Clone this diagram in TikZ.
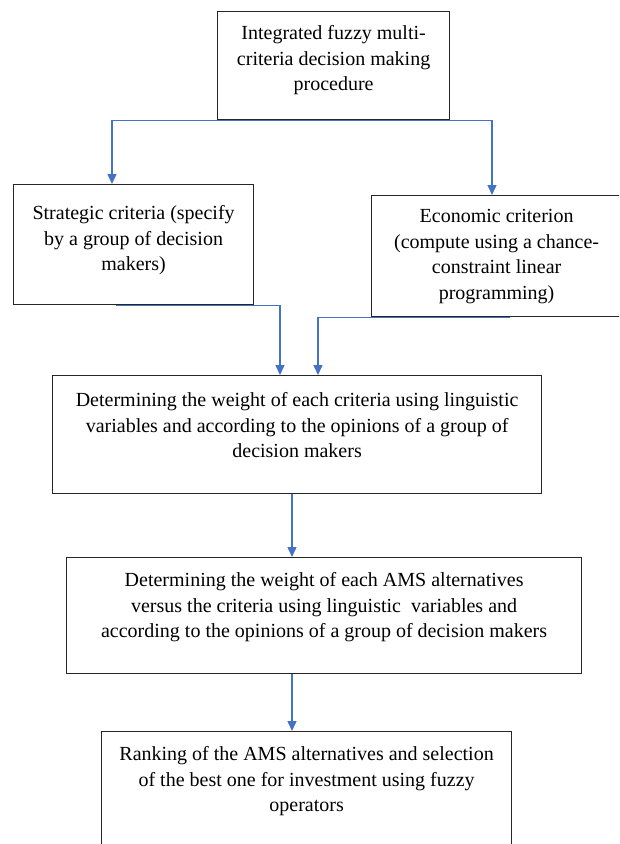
\documentclass[tikz,border=0pt]{standalone}
\usepackage{fontspec}
\setmainfont{Liberation Serif}
\usetikzlibrary{arrows.meta}
\definecolor{lnblue}{HTML}{4472C4}
\newcommand\boxtxt[4]{\parbox[c][#2][t]{#1}{\centering\rule{0pt}{#3}#4\par}}
\begin{document}
\begin{tikzpicture}[x=1pt,y=-1pt,
  box/.style={draw=black!85, line width=1.2pt, inner sep=0pt, anchor=north west, font=\fontsize{20}{25.5}\selectfont},
  arr/.style={draw=lnblue, line width=1.4pt, -{Triangle[width=9pt,length=10pt]}}]
\useasboundingbox (0,0) rectangle (619,844);
\clip (0,0) rectangle (619,844);
\node[box] (top) at (217,11) {\boxtxt{232pt}{108pt}{28pt}{Integrated fuzzy multi-\\criteria decision making\\procedure}};
\node[box] (strat) at (13,184) {\boxtxt{240pt}{120pt}{35pt}{Strategic criteria (specify\\by a group of decision\\makers)}};
\node[box] (econ) at (371,195) {\boxtxt{250pt}{121pt}{27pt}{Economic criterion\\(compute using a chance-\\constraint linear\\programming)}};
\node[box] (b1) at (52,375) {\boxtxt{489pt}{118pt}{31pt}{Determining the weight of each criteria using linguistic\\variables and according to the opinions of a group of\\decision makers}};
\node[box] (b2) at (66,557) {\boxtxt{515pt}{116pt}{29pt}{Determining the weight of each AMS alternatives\\versus the criteria using linguistic\ \ variables and\\according to the opinions of a group of decision makers}};
\node[box] (b3) at (101,731) {\boxtxt{410pt}{130pt}{29pt}{Ranking of the AMS alternatives and selection\\of the best one for investment using fuzzy\\operators}};
\draw[arr] (top.south) -| ([xshift=99pt]strat.north west);
\draw[arr] (top.south) -| ([xshift=121pt]econ.north west);
\draw[arr] ([xshift=103pt]strat.south west) -| ([xshift=228pt]b1.north west);
\draw[arr] ([xshift=139pt]econ.south west) -| ([xshift=266pt]b1.north west);
\draw[arr] ([xshift=240pt]b1.south west) -- ([xshift=240pt]b1.south west |- b2.north);
\draw[arr] ([xshift=226pt]b2.south west) -- ([xshift=226pt]b2.south west |- b3.north);
\end{tikzpicture}
\end{document}
